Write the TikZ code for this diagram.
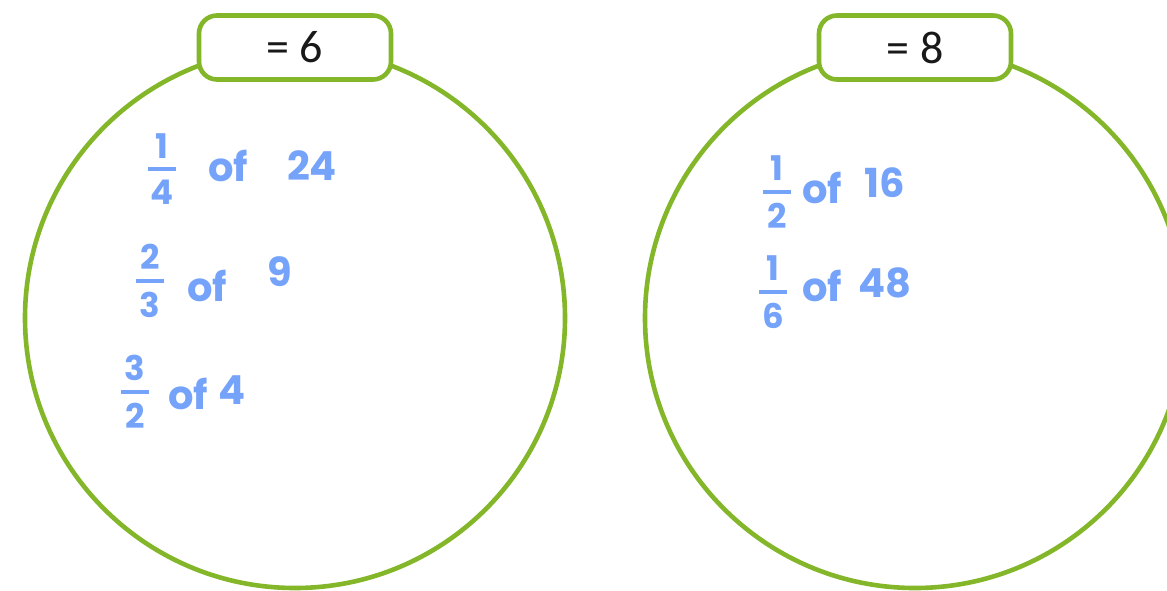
\documentclass[tikz,border=0pt]{standalone}
\usepackage{fontspec}
\setmainfont{Carlito}
\newfontfamily\hand{Poppins}
\definecolor{grn}{RGB}{132,182,42}
\definecolor{hblue}{RGB}{118,163,250}
\newcommand\hfr[2]{\shortstack{#1\\[1.5pt]\rule{0.8em}{0.12em}\\[1.5pt]#2}}
\begin{document}
\begin{tikzpicture}[x=0.5pt,y=-0.5pt,
 ring/.style={draw=grn,line width=2.3pt},
 tag/.style={draw=grn,line width=2.3pt,fill=white,rounded corners=9pt,minimum width=96pt,minimum height=32pt,font=\fontsize{23}{25}\selectfont,text=black!90},
 hw/.style={text=hblue,font=\hand\bfseries\fontsize{20}{22}\selectfont,inner sep=0pt},
 hf/.style={text=hblue,font=\hand\bfseries\fontsize{17}{17}\selectfont,inner sep=0pt}]
\useasboundingbox (0,0) rectangle (1167,590);
\draw[ring] (295,318) circle[radius=135pt];
\draw[ring] (915,318) circle[radius=135pt];
\node[tag] (t1) at (295,47.5) {= 6};
\node[tag] (t2) at (915,47.5) {= 8};
% left circle
\node[hf] (f1) at (162,169) {\hfr{1}{4}};
\node[hw] (o1) at (228,166) {of};
\node[hw] (n1) at (312,166) {24};
\node[hf] (f2) at (150,281) {\hfr{2}{3}};
\node[hw] (o2) at (207,286) {of};
\node[hw] (n2) at (280,272) {9};
\node[hf] (f3) at (135,392) {\hfr{3}{2}};
\node[hw] (o3) at (188,394) {of};
\node[hw] (n3) at (232,390) {4};
% right circle
\node[hf] (f4) at (777,192) {\hfr{1}{2}};
\node[hw] (o4) at (822,188) {of};
\node[hw] (n4) at (885,183) {16};
\node[hf] (f5) at (773,292) {\hfr{1}{6}};
\node[hw] (o5) at (822,286) {of};
\node[hw] (n5) at (885,283) {48};
\end{tikzpicture}
\end{document}
